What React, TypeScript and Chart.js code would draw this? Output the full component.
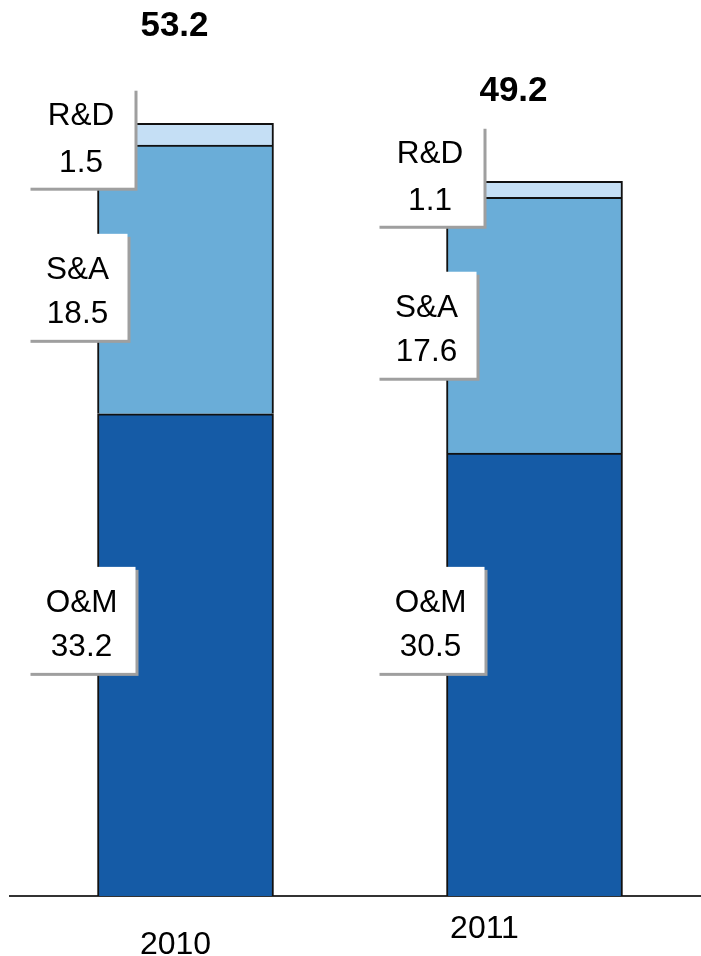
import React, { useEffect, useRef } from "react";
import { Chart, registerables } from "chart.js";

Chart.register(...registerables);

// Operating cost breakdown by year (values in the chart's units)
const YEARS = ["2010", "2011"];
const SERIES_NAMES = ["O&M", "S&A", "R&D"];
const OM_VALUES = [33.2, 30.5];
const SA_VALUES = [18.5, 17.6];
const RD_VALUES = [1.5, 1.1];
const TOTALS = [53.2, 49.2];

const SERIES_VALUES = [OM_VALUES, SA_VALUES, RD_VALUES];
const SERIES_COLORS = ["#155BA6", "#6AADD8", "#C5DFF5"];

const FONT = "'Liberation Sans', Arial, Helvetica, sans-serif";

// Callout boxes: top edge (in value units) per year and series [O&M, S&A, R&D]
const CALLOUT_TOP = [
  [22.66, 45.59, 55.65],
  [22.66, 42.98, 53.03],
];
// Box geometry per series [O&M, S&A, R&D]
const CALLOUT_W = [108, 100, 107];
const CALLOUT_H = [106, 106, 100];
const CALLOUT_LINE1 = [45, 45, 37];
const CALLOUT_LINE2 = [89.5, 89.5, 84];
const CALLOUT_LEFT_GAP = 70;

// Fine offsets of the total labels and year labels
const TOTAL_DX = [-11, -21];
const TOTAL_DY = [87, 80];
const YEAR_DX = [-10, -50];
const YEAR_DY = [58, 42];

const annotations = {
  id: "costAnnotations",
  afterDatasetsDraw(chart: any) {
    const ctx = chart.ctx as CanvasRenderingContext2D;
    const yScale = chart.scales.y;
    const xScale = chart.scales.x;
    ctx.save();

    // Callout boxes with drop shadow
    YEARS.forEach((_, j) => {
      SERIES_NAMES.forEach((name, i) => {
        const el = chart.getDatasetMeta(i).data[j];
        const barLeft = el.x - el.width / 2;
        const left = barLeft - CALLOUT_LEFT_GAP;
        const top = yScale.getPixelForValue(CALLOUT_TOP[j][i]);
        const w = CALLOUT_W[i];
        const h = CALLOUT_H[i];
        ctx.fillStyle = "#9f9f9f";
        ctx.fillRect(left + 3, top + 3, w, h);
        ctx.fillStyle = "#ffffff";
        ctx.fillRect(left, top, w, h);
        ctx.fillStyle = "#000000";
        ctx.font = `31.5px ${FONT}`;
        ctx.textAlign = "center";
        ctx.textBaseline = "alphabetic";
        ctx.fillText(name, left + w / 2, top + CALLOUT_LINE1[i]);
        ctx.fillText(SERIES_VALUES[i][j].toFixed(1), left + w / 2, top + CALLOUT_LINE2[i]);
      });
    });

    // Totals above the stacks
    YEARS.forEach((_, j) => {
      const el = chart.getDatasetMeta(0).data[j];
      const yTop = yScale.getPixelForValue(TOTALS[j]);
      ctx.fillStyle = "#000000";
      ctx.font = `bold 35px ${FONT}`;
      ctx.textAlign = "center";
      ctx.textBaseline = "alphabetic";
      ctx.fillText(TOTALS[j].toFixed(1), el.x + TOTAL_DX[j], yTop - TOTAL_DY[j]);
    });

    // Year labels under the axis
    const axisY = yScale.getPixelForValue(0);
    YEARS.forEach((year, j) => {
      ctx.fillStyle = "#000000";
      ctx.font = `32px ${FONT}`;
      ctx.textAlign = "center";
      ctx.textBaseline = "alphabetic";
      ctx.fillText(year, xScale.getPixelForValue(j) + YEAR_DX[j], axisY + YEAR_DY[j]);
    });

    ctx.restore();
  },
};

export default function App() {
  const canvasRef = useRef<HTMLCanvasElement | null>(null);

  useEffect(() => {
    if (!canvasRef.current) return;
    const chart = new Chart(canvasRef.current, {
      type: "bar",
      data: {
        datasets: SERIES_NAMES.map((name, i) => ({
          label: name,
          data: YEARS.map((_, j) => ({ x: j, y: SERIES_VALUES[i][j] })),
          backgroundColor: SERIES_COLORS[i],
          borderColor: "#111111",
          borderWidth: 2,
          borderSkipped: "start",
          barThickness: 176,
        })),
      },
      options: {
        responsive: false,
        animation: false,
        devicePixelRatio: 1,
        layout: { padding: { top: 10, left: 10, right: 0, bottom: 60 } },
        plugins: {
          legend: { display: false },
          tooltip: { enabled: false },
        },
        scales: {
          x: {
            type: "linear",
            min: -0.50287,
            max: 1.47707,
            offset: false,
            stacked: true,
            ticks: { display: false },
            grid: { display: false, drawTicks: false, offset: false },
            border: { display: true, color: "#333333", width: 2 },
          },
          y: {
            stacked: true,
            min: 0,
            max: 61,
            display: false,
          },
        },
      },
      plugins: [annotations],
    } as any);
    return () => chart.destroy();
  }, []);

  return (
    <div
      style={{
        position: "fixed",
        left: 0,
        top: 0,
        width: 701,
        height: 956,
        background: "#ffffff",
      }}
    >
      <canvas ref={canvasRef} width={701} height={956} style={{ display: "block" }} />
    </div>
  );
}
